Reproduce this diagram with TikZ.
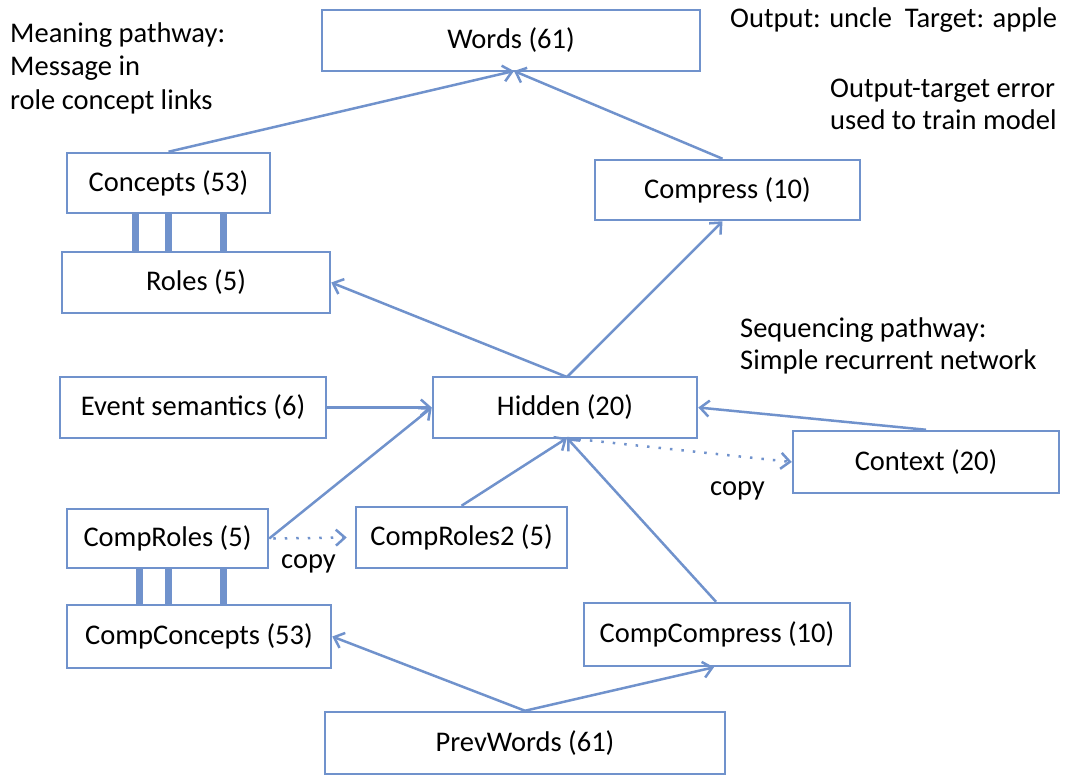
\documentclass[tikz,border=0pt]{standalone}
\usepackage{fontspec}
\setmainfont{Carlito}
\usetikzlibrary{arrows.meta}
\definecolor{lb}{RGB}{112,146,204}
\begin{document}
\begin{tikzpicture}[x=1pt,y=-1pt,
  box/.style={draw=lb,line width=2.5pt,fill=white,inner sep=0pt},
  conn/.style={draw=lb,line width=2.5pt,-{Straight Barb[length=9pt,width=16pt,line width=2.5pt]}},
  dotconn/.style={conn,dash pattern=on 2.5pt off 9pt},
  bar/.style={draw=lb,line width=7pt},
  lbl/.style={font=\fontsize{28.5}{33}\selectfont,align=left,anchor=base west,inner sep=0pt}]
\useasboundingbox (0,0) rectangle (1070,774);
\newcommand{\bx}[6]{\node[box,minimum width=#4-#2,minimum height=#5-#3,font=\fontsize{28.5}{33}\selectfont] (#1) at ({(#2+#4)/2},{(#3+#5)/2}) {#6};}
\bx{words}{322}{10}{700}{71}{Words (61)}
\bx{concepts}{67}{153}{270}{213}{Concepts (53)}
\bx{roles}{62}{252}{330}{313}{Roles (5)}
\bx{compress}{595}{160}{860}{220}{Compress (10)}
\bx{event}{60}{377}{326}{438}{Event semantics (6)}
\bx{hidden}{433}{377}{697}{438}{Hidden (20)}
\bx{context}{793}{431}{1059}{493}{Context (20)}
\bx{comproles}{67}{509}{268}{568}{CompRoles (5)}
\bx{comproles2}{356}{507}{567}{568}{CompRoles2 (5)}
\bx{compconcepts}{67}{605}{331}{668}{CompConcepts (53)}
\bx{compcompress}{584}{603}{850}{666}{CompCompress (10)}
\bx{prevwords}{325}{712}{725}{774}{PrevWords (61)}
% labels
\node[lbl,font=\fontsize{28.5}{33.5}\selectfont] (meaning) at (10,109) {Meaning pathway:\\Message in\\role concept links};
\node[lbl] (output) at (730,27) {Output: uncle\ \ Target: apple};
\node[lbl,font=\fontsize{28.5}{32}\selectfont] (error) at (830,129) {Output-target error\\used to train model};
\node[lbl,font=\fontsize{28.5}{32}\selectfont] (seq) at (740,369) {Sequencing pathway:\\Simple recurrent network};
\node[lbl] (copy1) at (710,495) {copy};
\node[lbl] (copy2) at (281,568) {copy};
% coordinates
\coordinate (wb) at (514,71);
\coordinate (ht) at (567,377);
\coordinate (hb) at (567,438);
% bars
\foreach \x in {135,168,223} {\draw[bar] (\x,213) -- (\x,252);}
\foreach \x in {139,168,223} {\draw[bar] (\x,568) -- (\x,605);}
% connectors
\draw[conn] (concepts.north) -- (wb);
\draw[conn] ([xshift=-5pt]compress.north) -- (wb);
\draw[conn] (ht) -- (roles.east);
\draw[conn] (ht) -- ([xshift=-5pt]compress.south);
\draw[conn] (event.east) -- (hidden.west);
\draw[conn] (comproles.east) -- (hidden.west);
\draw[conn] (comproles2.north) -- (hb);
\draw[conn] ([xshift=-1pt]compcompress.north) -- (hb);
\draw[conn] (context.north) -- (hidden.east);
\draw[dotconn] (hb) -- (context.west);
\draw[dotconn] ([xshift=4pt]comproles.east) -- ([xshift=-8pt]comproles2.west);
\draw[conn] (prevwords.north) -- (compconcepts.east);
\draw[conn] (prevwords.north) -- ([xshift=-3pt]compcompress.south);
\end{tikzpicture}
\end{document}
